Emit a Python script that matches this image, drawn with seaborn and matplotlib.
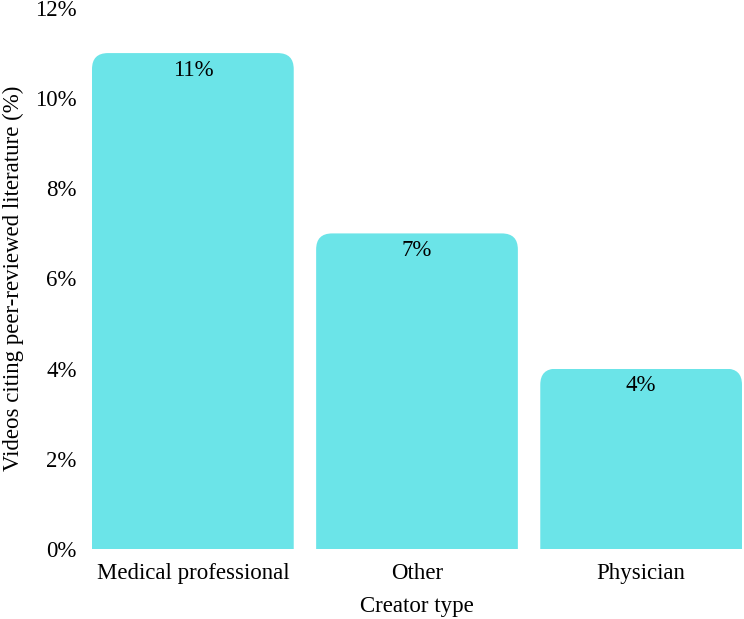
import matplotlib
matplotlib.use("Agg")
import matplotlib.pyplot as plt
import seaborn as sns
import pandas as pd
from matplotlib.patches import FancyBboxPatch
from matplotlib.ticker import FuncFormatter

categories = ["Medical professional", "Other", "Physician"]
values = [11, 7, 4]
yticks = [0, 2, 4, 6, 8, 10, 12]

sns.set_theme(style="white")
plt.rcParams["font.family"] = ["Liberation Serif", "DejaVu Serif"]

df = pd.DataFrame({"Creator type": categories, "pct": values})

fig = plt.figure(figsize=(7.44, 6.19), dpi=100)
ax = fig.add_axes([92/744, 1 - 549/619, 650/744, 541/619])
color = "#6BE4E8"
sns.barplot(data=df, x="Creator type", y="pct", color=color, width=0.9,
            saturation=1, ax=ax)
ax.set_xlim(-0.45, 2.45)
ax.set_ylim(0, 12)

fs = 16.5
# rounded top corners via clipping
xpx = 2.9 / 650
ypx = 12 / 541
r = 16 * xpx
for p in ax.patches:
    x, w, h = p.get_x(), p.get_width(), p.get_height()
    clip = FancyBboxPatch((x, -1), w, h + 1,
                          boxstyle=f"round,pad=0,rounding_size={r}",
                          mutation_aspect=ypx / xpx,
                          transform=ax.transData, facecolor="none", edgecolor="none")
    ax.add_patch(clip)
    p.set_clip_path(clip)
    p.set_edgecolor("none")
    ax.text(x + w / 2, h - 17 * ypx, f"{h:.0f}%", ha="center", va="center",
            fontsize=fs, color="black")

ax.set_yticks(yticks)
ax.yaxis.set_major_formatter(FuncFormatter(lambda v, _: f"{v:.0f}%"))
ax.tick_params(axis="both", labelsize=fs, length=0, colors="black")
ax.tick_params(axis="y", pad=11)
ax.tick_params(axis="x", pad=10)
ax.set_xlabel("Creator type", fontsize=fs, labelpad=9, color="black")
ax.set_ylabel("Videos citing peer-reviewed literature (%)", fontsize=fs,
              color="black")
ax.yaxis.set_label_coords(-0.105, 0.5)
for s in ax.spines.values():
    s.set_visible(False)
ax.grid(False)

fig.savefig("out.png", dpi=100)
